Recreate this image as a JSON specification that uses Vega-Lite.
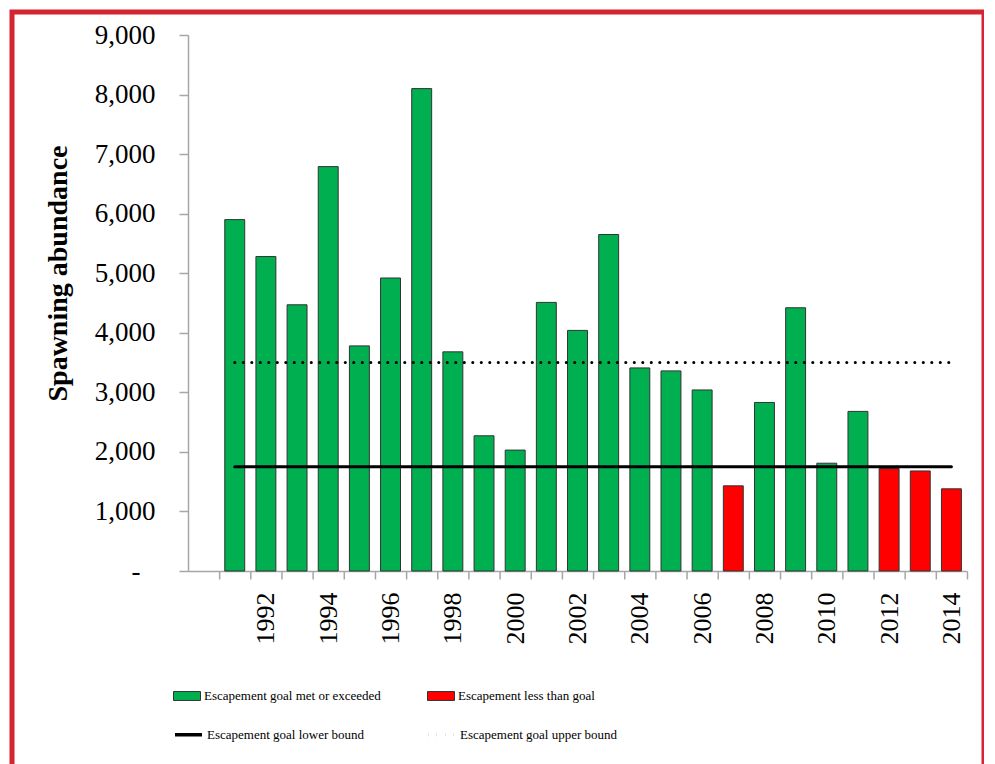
{
  "$schema": "https://vega.github.io/schema/vega-lite/v6.json",
  "width": 972,
  "height": 756,
  "autosize": {"type": "none"},
  "padding": {"left": 12, "top": 12, "right": 0, "bottom": 0},
  "background": "white",
  "view": {"stroke": "#D42530", "strokeWidth": 5, "fill": "white"},
  "datasets": {
    "bars": [
      {"year": 1991, "value": 5900, "series": "Escapement goal met or exceeded"},
      {"year": 1992, "value": 5280, "series": "Escapement goal met or exceeded"},
      {"year": 1993, "value": 4470, "series": "Escapement goal met or exceeded"},
      {"year": 1994, "value": 6790, "series": "Escapement goal met or exceeded"},
      {"year": 1995, "value": 3780, "series": "Escapement goal met or exceeded"},
      {"year": 1996, "value": 4920, "series": "Escapement goal met or exceeded"},
      {"year": 1997, "value": 8100, "series": "Escapement goal met or exceeded"},
      {"year": 1998, "value": 3680, "series": "Escapement goal met or exceeded"},
      {"year": 1999, "value": 2270, "series": "Escapement goal met or exceeded"},
      {"year": 2000, "value": 2030, "series": "Escapement goal met or exceeded"},
      {"year": 2001, "value": 4510, "series": "Escapement goal met or exceeded"},
      {"year": 2002, "value": 4040, "series": "Escapement goal met or exceeded"},
      {"year": 2003, "value": 5650, "series": "Escapement goal met or exceeded"},
      {"year": 2004, "value": 3410, "series": "Escapement goal met or exceeded"},
      {"year": 2005, "value": 3360, "series": "Escapement goal met or exceeded"},
      {"year": 2006, "value": 3040, "series": "Escapement goal met or exceeded"},
      {"year": 2007, "value": 1430, "series": "Escapement less than goal"},
      {"year": 2008, "value": 2830, "series": "Escapement goal met or exceeded"},
      {"year": 2009, "value": 4420, "series": "Escapement goal met or exceeded"},
      {"year": 2010, "value": 1810, "series": "Escapement goal met or exceeded"},
      {"year": 2011, "value": 2680, "series": "Escapement goal met or exceeded"},
      {"year": 2012, "value": 1720, "series": "Escapement less than goal"},
      {"year": 2013, "value": 1680, "series": "Escapement less than goal"},
      {"year": 2014, "value": 1380, "series": "Escapement less than goal"}
    ],
    "bounds": [
      {"year": 1991, "value": 1750, "bound": "Escapement goal lower bound"},
      {"year": 2014, "value": 1750, "bound": "Escapement goal lower bound"},
      {"year": 1991, "value": 3500, "bound": "Escapement goal upper bound"},
      {"year": 2014, "value": 3500, "bound": "Escapement goal upper bound"}
    ]
  },
  "encoding": {
    "x": {
      "field": "year",
      "type": "ordinal",
      "scale": {
        "domain": [1990, 1991, 1992, 1993, 1994, 1995, 1996, 1997, 1998, 1999, 2000, 2001, 2002, 2003, 2004, 2005, 2006, 2007, 2008, 2009, 2010, 2011, 2012, 2013, 2014],
        "range": [176, 955],
        "paddingInner": 0.36,
        "paddingOuter": 0.18
      },
      "axis": {
        "title": null,
        "orient": "bottom",
        "offset": -197,
        "bandPosition": 1,
        "tickExtra": false,
        "tickOffset": 5.6,
        "tickRound": false,
        "tickSize": 8,
        "tickColor": "#A6A6A6",
        "tickWidth": 1.5,
        "domainColor": "#A6A6A6",
        "domainWidth": 1.5,
        "labelAngle": -90,
        "labelOffset": -5.6,
        "labelFont": "Liberation Serif",
        "labelFontSize": 26,
        "labelColor": "#000000",
        "labelPadding": 13,
        "labelOverlap": false,
        "labelBound": false,
        "labelExpr": "(datum.value % 2 == 0 && datum.value != 1990) ? datum.label : ''"
      }
    },
    "y": {
      "field": "value",
      "type": "quantitative",
      "scale": {"domain": [0, 9000], "nice": false, "range": [559, 23]},
      "axis": {
        "title": "Spawning abundance",
        "orient": "left",
        "offset": -176,
        "values": [0, 1000, 2000, 3000, 4000, 5000, 6000, 7000, 8000, 9000],
        "grid": false,
        "tickSize": 9,
        "tickColor": "#A6A6A6",
        "tickWidth": 1.5,
        "domainColor": "#A6A6A6",
        "domainWidth": 1.5,
        "labelFont": "Liberation Serif",
        "labelFontSize": 27,
        "labelColor": "#000000",
        "labelPadding": {"condition": {"test": "datum.value == 0", "value": 39}, "value": 24},
        "labelOverlap": false,
        "labelBound": false,
        "labelExpr": "datum.value == 0 ? '-' : format(datum.value, ',')",
        "titleFont": "Liberation Serif",
        "titleFontSize": 28,
        "titleFontWeight": "bold",
        "titleColor": "#000000",
        "titleAngle": -90,
        "titleBaseline": "middle",
        "titleAlign": "center",
        "titleX": -130,
        "titleY": 261
      }
    }
  },
  "layer": [
    {
      "data": {"name": "bars"},
      "mark": {"type": "bar", "stroke": "#333333", "strokeWidth": 1},
      "encoding": {
        "fill": {
          "field": "series",
          "type": "nominal",
          "scale": {
            "domain": ["Escapement goal met or exceeded", "Escapement less than goal"],
            "range": ["#00B050", "#FF0000"]
          },
          "legend": {
            "title": null,
            "orient": "none",
            "legendX": 161,
            "legendY": 670,
            "direction": "horizontal",
            "padding": 0,
            "columnPadding": 44,
            "symbolSize": 729,
            "symbolType": "M-1,-0.33H1V0.33H-1Z",
            "symbolStrokeColor": "#333333",
            "symbolStrokeWidth": 1,
            "symbolOpacity": 1,
            "labelFont": "Liberation Serif",
            "labelFontSize": 13,
            "labelColor": "#000000",
            "labelLimit": 400,
            "labelOffset": 3
          }
        }
      }
    },
    {
      "data": {"name": "bounds"},
      "mark": {"type": "line", "strokeWidth": 3, "color": "#000000", "strokeCap": "round"},
      "encoding": {
        "strokeDash": {
          "field": "bound",
          "type": "nominal",
          "scale": {
            "domain": ["Escapement goal lower bound", "Escapement goal upper bound"],
            "range": [[1, 0], [0.1, 8.4]]
          },
          "legend": {
            "title": null,
            "orient": "none",
            "legendX": 161,
            "legendY": 707,
            "direction": "horizontal",
            "padding": 0,
            "columnPadding": 56,
            "symbolSize": 729,
            "symbolType": "stroke",
            "symbolStrokeColor": "#000000",
            "symbolStrokeWidth": 3.5,
            "symbolOpacity": 1,
            "labelFont": "Liberation Serif",
            "labelFontSize": 13,
            "labelColor": "#000000",
            "labelLimit": 400,
            "labelOffset": 3
          }
        }
      }
    }
  ]
}
